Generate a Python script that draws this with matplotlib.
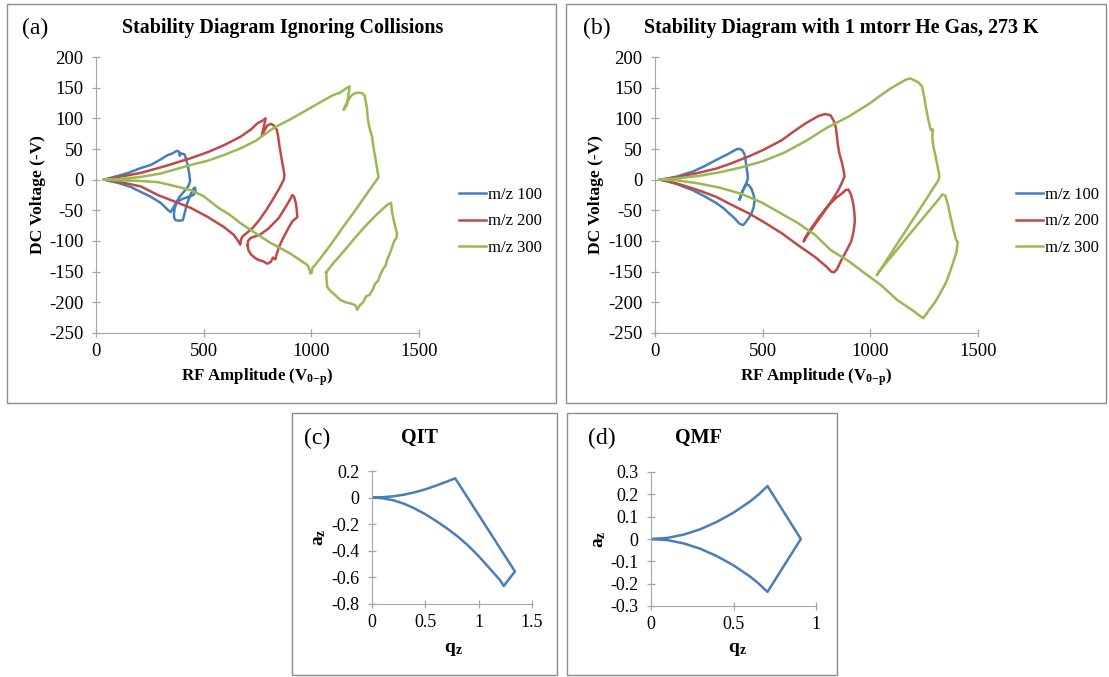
import numpy as np
import matplotlib.pyplot as plt
from matplotlib.patches import Rectangle
from matplotlib.ticker import FuncFormatter

plt.rcParams['font.family'] = 'Liberation Serif'
plt.rcParams['mathtext.fontset'] = 'custom'
plt.rcParams['mathtext.rm'] = 'Liberation Serif'
plt.rcParams['mathtext.bf'] = 'Liberation Serif:bold'
plt.rcParams['mathtext.it'] = 'Liberation Serif:italic'
plt.rcParams['axes.unicode_minus'] = False

# ---- (a) ignoring collisions: RF amplitude (V) vs DC voltage (-V) ----
blue_a_x = [37, 100, 150, 208, 255, 300, 333, 356, 375, 385, 389, 395, 404, 412, 417, 426, 433, 437, 431, 420,
            407, 395, 384, 375, 366, 362, 363, 369, 385, 403, 410, 422, 438, 452, 460, 463, 452, 430, 405, 387,
            375, 360, 347, 333, 301, 255, 208, 162, 100, 60, 37]
blue_a_y = [0, 6, 11, 19, 24, 33, 40, 43, 47, 46, 39, 43, 42, 41, 35, 23, 10, -2, -9, -15,
            -20, -25, -30, -36, -46, -55, -62, -66, -67, -66, -57, -40, -25, -15, -13, -20, -25, -28, -31, -34,
            -36, -45, -53, -49, -38, -28, -20, -12, -5, -2, 0]

red_a_x = [40, 100, 208, 320, 440, 520, 593, 671, 720, 750, 772, 788, 778, 770, 782, 795, 810, 824, 840, 846,
           852, 860, 868, 875, 872, 850, 820, 790, 760, 730, 700, 680, 674, 670, 662, 640, 593, 520, 440, 360,
           287, 208, 100, 40]
red_a_y = [0, 4, 11, 22, 35, 45, 56, 70, 82, 92, 96, 100, 84, 72, 80, 88, 91, 89, 81, 70,
           55, 38, 22, 8, 0, -15, -33, -50, -65, -78, -87, -93, -97, -106, -101, -90, -77, -61, -46, -35,
           -25, -11, -3, 0]
red_a_box_x = [704, 708, 720, 740, 755, 775, 796, 812, 822, 833, 840, 850, 865, 880, 895, 912, 935, 932, 928, 920,
               912, 905, 880, 850, 800, 760, 718, 706, 704]
red_a_box_y = [-107, -115, -122, -128, -131, -133, -137, -134, -127, -130, -120, -110, -98, -88, -78, -68, -61, -48, -38, -28,
               -25, -30, -45, -62, -80, -90, -95, -100, -107]

green_a_x = [40, 100, 200, 300, 440, 520, 593, 671, 740, 824, 900, 981, 1050, 1102, 1134, 1150, 1171, 1178, 1165, 1150,
             1160, 1181, 1192, 1204, 1220, 1236, 1248, 1252, 1258, 1262, 1268, 1275, 1282, 1290, 1300, 1308, 1312, 1290, 1250, 1200,
             1150, 1100, 1060, 1020, 1005, 1001, 995, 988, 981, 900, 810, 740, 671, 620, 565, 500, 440, 360, 287, 200,
             100, 40]
green_a_y = [0, 1, 4, 10, 24, 31, 40, 51, 63, 84, 98, 114, 128, 138, 142, 146, 151, 152, 122, 114,
             122, 135, 139, 141, 142, 141, 137, 128, 118, 100, 88, 78, 70, 50, 30, 12, 4, -7, -27, -52,
             -76, -101, -120, -138, -144, -152, -153, -143, -139, -120, -103, -87, -71, -57, -45, -27, -17, -10, -4, -2,
             -1, 0]
green_a_box_x = [1069, 1100, 1150, 1200, 1250, 1300, 1340, 1356, 1370, 1376, 1385, 1398, 1395, 1385, 1370, 1352, 1345, 1335, 1320, 1310,
                 1295, 1287, 1270, 1255, 1240, 1225, 1213, 1205, 1185, 1160, 1134, 1110, 1090, 1074, 1071, 1069]
green_a_box_y = [-151, -137, -117, -96, -76, -58, -45, -40, -38, -55, -70, -88, -95, -100, -115, -131, -140, -145, -155, -165,
                 -170, -178, -188, -190, -200, -205, -212, -205, -202, -200, -196, -188, -182, -175, -165, -151]

# ---- (b) with 1 mtorr He, 273 K ----
blue_b_x = [23, 60, 100, 174, 230, 284, 340, 381, 395, 405, 415, 420, 425, 430, 431, 425, 418, 408, 398, 392,
            396, 405, 415, 425, 436, 448, 458, 463, 458, 448, 436, 420, 410, 400, 390, 370, 344, 320, 284, 230,
            174, 100, 60, 23]
blue_b_y = [0, 2, 5, 13, 22, 32, 42, 50, 50, 48, 42, 33, 20, 8, 2, -5, -10, -18, -26, -33,
            -30, -20, -12, -8, -9, -15, -25, -33, -45, -55, -62, -70, -74, -73, -71, -63, -55, -47, -38, -27,
            -17, -7, -3, 0]

red_b_x = [25, 100, 200, 284, 350, 436, 500, 587, 650, 700, 740, 760, 790, 815, 830, 840, 845, 850, 858, 868,
           876, 880, 872, 850, 810, 770, 735, 705, 690, 695, 720, 760, 800, 840, 870, 885, 898, 910, 920, 926,
           928, 922, 912, 895, 875, 860, 845, 832, 818, 800, 743, 665, 587, 500, 436, 350, 284, 200, 100, 25]
red_b_y = [0, 4, 11, 18, 26, 38, 48, 64, 80, 92, 100, 104, 107, 105, 96, 85, 70, 55, 40, 28,
           15, 5, -2, -18, -40, -60, -77, -92, -101, -96, -82, -62, -44, -30, -22, -17, -16, -24, -38, -54,
           -68, -85, -100, -112, -125, -135, -146, -151, -150, -143, -126, -107, -87, -68, -55, -40, -28, -17, -6, 0]

green_b_x = [20, 100, 200, 300, 400, 500, 600, 700, 800, 900, 1000, 1050, 1100, 1140, 1165, 1185, 1205, 1225, 1240, 1250,
             1258, 1268, 1278, 1284, 1290, 1288, 1292, 1302, 1312, 1320, 1318, 1290, 1250, 1200, 1150, 1100, 1060, 1035, 1030, 1040,
             1070, 1120, 1170, 1220, 1270, 1310, 1335, 1348, 1360, 1372, 1385, 1398, 1406, 1400, 1380, 1355, 1325, 1300, 1270, 1245,
             1230, 1200, 1124, 1050, 972, 900, 817, 743, 665, 600, 500, 400, 300, 200, 100, 20]
green_b_y = [0, 2, 6, 12, 20, 30, 44, 63, 85, 103, 125, 138, 150, 158, 163, 165, 162, 158, 152, 135,
             118, 100, 84, 80, 82, 70, 55, 40, 22, 8, 0, -15, -37, -64, -91, -118, -140, -153, -156, -150,
             -137, -116, -94, -73, -52, -35, -24, -26, -40, -60, -80, -98, -102, -118, -140, -165, -185, -200, -214, -226,
             -222, -214, -196, -172, -152, -133, -115, -90, -71, -58, -38, -23, -13, -6, -1, 0]

# ---- (c) QIT and (d) QMF stability regions (q_z, a_z) ----
qit_q = [0, 0.1, 0.2, 0.3, 0.4, 0.5, 0.6, 0.7, 0.78, 1.34, 1.235, 1.2, 1.1, 1.0, 0.9, 0.8, 0.7, 0.6, 0.5, 0.4, 0.3, 0.2, 0.1, 0]
qit_a = [0, 0.003, 0.01, 0.022, 0.04, 0.062, 0.09, 0.12, 0.145, -0.555, -0.665, -0.62, -0.53, -0.44, -0.36, -0.29,
         -0.23, -0.175, -0.125, -0.082, -0.046, -0.02, -0.005, 0]
qmf_q = [0, 0.1, 0.2, 0.3, 0.4, 0.5, 0.6, 0.65, 0.706, 0.908, 0.706, 0.65, 0.6, 0.5, 0.4, 0.3, 0.2, 0.1, 0]
qmf_a = [0, 0.005, 0.02, 0.044, 0.077, 0.118, 0.168, 0.198, 0.237, 0, -0.237, -0.198, -0.168, -0.118, -0.077, -0.044, -0.02, -0.005, 0]

series_labels = ['m/z 100', 'm/z 200', 'm/z 300']
colors = ['#4a7ebb', '#be4b48', '#98b954']

W, H = 1109, 677
fig = plt.figure(figsize=(W / 100, H / 100), dpi=100)


def px_box(l, t, r, b):
    return [l / W, 1 - b / H, (r - l) / W, (b - t) / H]


def put(x, y, s, **kw):
    fig.text(x / W, 1 - y / H, s, ha='center', va='center', **kw)


def frame(l, t, r, b):
    fig.add_artist(Rectangle((l / W, 1 - b / H), (r - l) / W, (b - t) / H,
                             transform=fig.transFigure, fill=False, ec='#8c8c8c', lw=1))


def style(ax, size):
    ax.spines[['top', 'right']].set_visible(False)
    ax.spines[['left', 'bottom']].set_color('#a6a6a6')
    ax.tick_params(direction='inout', length=6, width=0.9, color='#a6a6a6', labelsize=size)
    ax.tick_params(axis='x', pad=4)
    ax.tick_params(axis='y', pad=6)
    fmt = FuncFormatter(lambda v, p: f'{round(v, 6) + 0:g}')
    ax.xaxis.set_major_formatter(fmt)
    ax.yaxis.set_major_formatter(fmt)
    ax.patch.set_alpha(0)


def join(x1, y1, x2, y2):
    return (np.concatenate([x1, [np.nan], x2]), np.concatenate([y1, [np.nan], y2]))


frame(7, 4, 556, 403)
frame(566, 4, 1106, 403)
frame(292, 413, 557, 675)
frame(567, 413, 837, 675)

# panels (a) and (b)
panel_ab = [
    dict(box=(96, 57, 419, 333), leg=459, letter='(a)', lx=35, title='Stability Diagram Ignoring Collisions', tx=283,
         ylx=38, series=[(blue_a_x, blue_a_y), join(red_a_x, red_a_y, red_a_box_x, red_a_box_y),
                         join(green_a_x, green_a_y, green_a_box_x, green_a_box_y)]),
    dict(box=(655, 57, 978, 333), leg=1016, letter='(b)', lx=597, title='Stability Diagram with 1 mtorr He Gas, 273 K',
         tx=841, ylx=596, series=[(blue_b_x, blue_b_y), (red_b_x, red_b_y), (green_b_x, green_b_y)]),
]
for p in panel_ab:
    l, t, r, b = p['box']
    ax = fig.add_axes(px_box(l, t, r, b))
    for (x, y), c, lab in zip(p['series'], colors, series_labels):
        ax.plot(x, y, color=c, lw=1.8, label=lab, solid_joinstyle='round')
    ax.set_xlim(0, 1500)
    ax.set_ylim(-250, 200)
    ax.set_xticks([0, 500, 1000, 1500])
    ax.set_yticks(np.arange(-250, 201, 50))
    style(ax, 13.5)
    ax.legend(loc='center left', bbox_to_anchor=(p['leg'] / W, 1 - 221.5 / H), bbox_transform=fig.transFigure,
              frameon=False, fontsize=12, handlelength=1.6, handletextpad=0.15, labelspacing=0.62,
              borderpad=0, borderaxespad=0)
    put(p['lx'], 28, p['letter'], fontsize=17)
    put(p['tx'], 28, p['title'], fontsize=14.4, fontweight='bold')
    put(p['ylx'], (t + b) / 2, 'DC Voltage (-V)', fontsize=12.5, fontweight='bold', rotation=90)
    put((l + r) / 2, 377, r'RF Amplitude (V$_{\mathbf{0{-}p}}$)', fontsize=12.2, fontweight='bold')

# panels (c) and (d)
panel_cd = [
    dict(box=(372, 471, 532, 604), q=qit_q, a=qit_a, xlim=(0, 1.5), ylim=(-0.8, 0.2), xt=[0, 0.5, 1, 1.5],
         yt=np.arange(-0.8, 0.21, 0.2), letter='(c)', lx=317, title='QIT', tx=419, ylx=320, xlx=453),
    dict(box=(651, 472, 816, 606), q=qmf_q, a=qmf_a, xlim=(0, 1), ylim=(-0.3, 0.3), xt=[0, 0.5, 1],
         yt=np.arange(-0.3, 0.31, 0.1), letter='(d)', lx=602, title='QMF', tx=698, ylx=599, xlx=737),
]
for p in panel_cd:
    l, t, r, b = p['box']
    ax = fig.add_axes(px_box(l, t, r, b))
    ax.plot(p['q'], p['a'], color=colors[0], lw=1.8, solid_joinstyle='round')
    ax.set_xlim(*p['xlim'])
    ax.set_ylim(*p['ylim'])
    ax.set_xticks(p['xt'])
    ax.set_yticks(p['yt'])
    style(ax, 13)
    put(p['lx'], 438, p['letter'], fontsize=17)
    put(p['tx'], 438, p['title'], fontsize=14.5, fontweight='bold')
    put(p['ylx'], (t + b) / 2, r'$\mathbf{a}_\mathbf{z}$', fontsize=14, rotation=90)
    put(p['xlx'], 650, r'$\mathbf{q}_\mathbf{z}$', fontsize=14)

fig.savefig('out.png', dpi=100)
